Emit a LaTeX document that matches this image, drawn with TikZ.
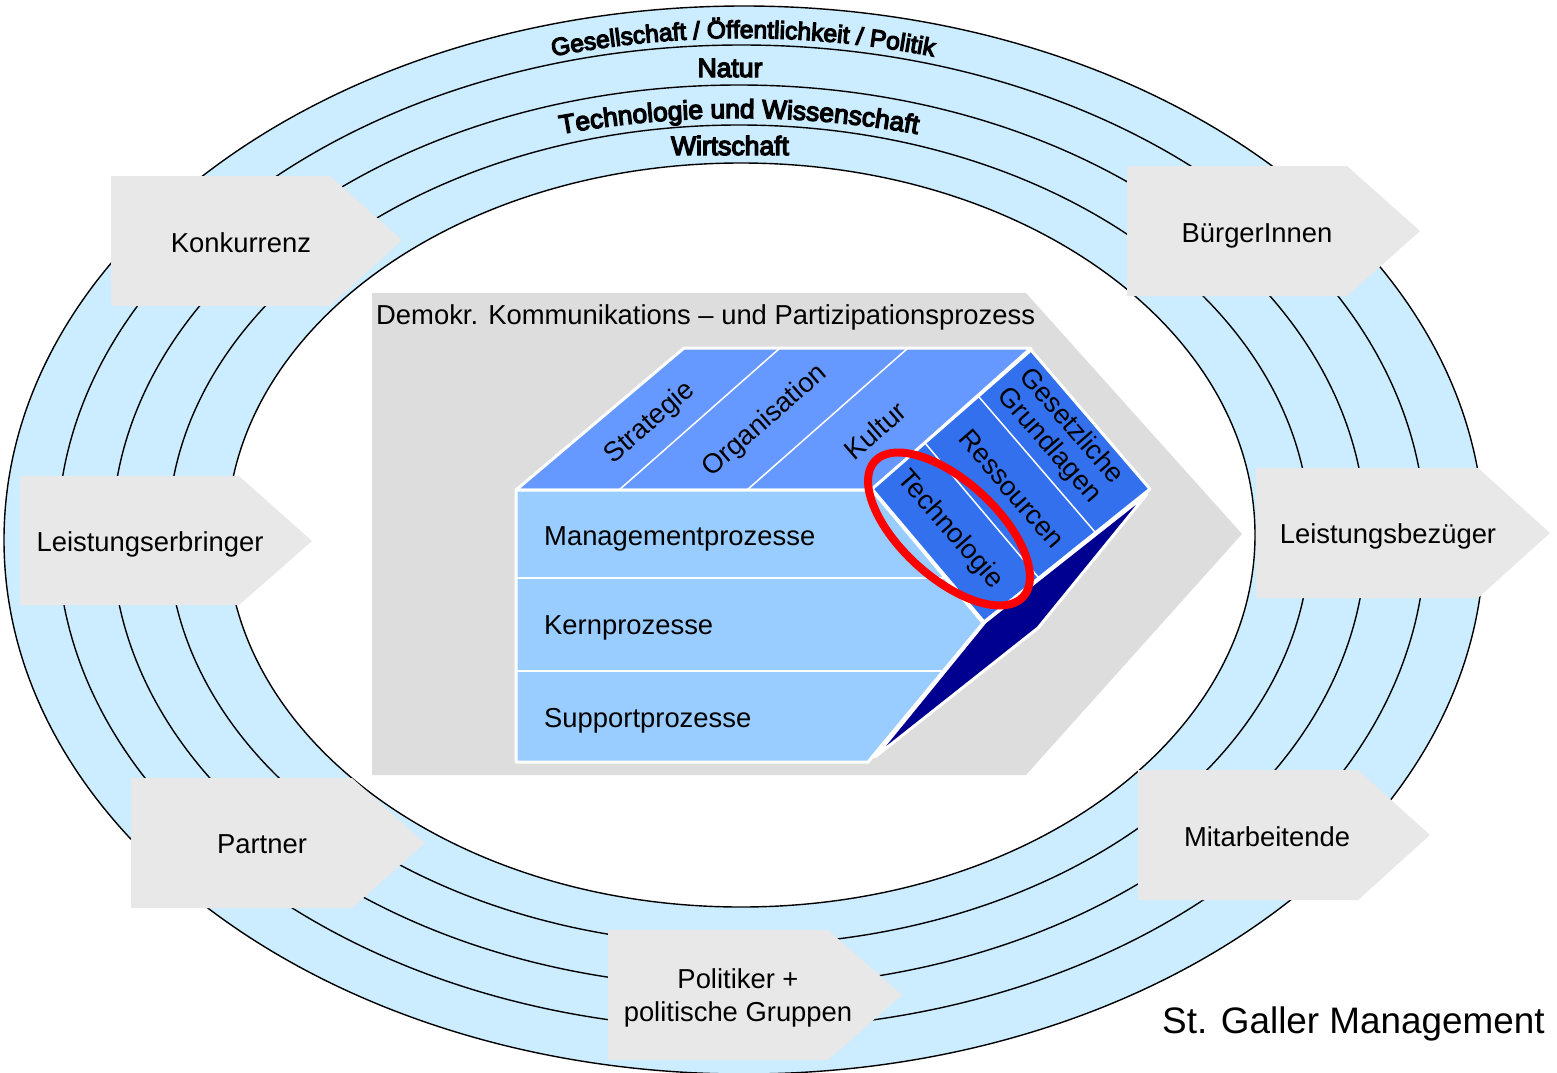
\documentclass[tikz,border=0pt]{standalone}
\usepackage{fontspec}
\setmainfont{Liberation Sans}
\newfontfamily\heavyfont[FakeBold=5]{Liberation Sans}
\usetikzlibrary{shapes.geometric,decorations.text}
\definecolor{ringblue}{HTML}{CCECFF}
\definecolor{arrowgrey}{HTML}{E8E8E8}
\definecolor{procgrey}{HTML}{DDDDDD}
\definecolor{topblue}{HTML}{6699FF}
\definecolor{sideblue}{HTML}{3370EE}
\definecolor{frontblue}{HTML}{99CCFF}
\definecolor{darkblue}{HTML}{000090}
\tikzset{
  ring/.style={draw=black,line width=1.4bp,fill=ringblue},
  pent/.style={fill=arrowgrey},
  facet/.style={draw=white,line width=3bp,line join=round},
  divider/.style={draw=white,line width=1.5bp},
  lab/.style={inner sep=0pt,font=\fontsize{27.5}{33}\selectfont,align=center},
  blab/.style={lab,anchor=base},
  llab/.style={lab,anchor=base west},
  heavylab/.style={inner sep=0pt,anchor=base,font=\heavyfont\fontsize{26.6}{30}\selectfont},
}
\begin{document}
\begin{tikzpicture}[x=1bp,y=-1bp]
\useasboundingbox (0,0) rectangle (1557,1072);
\clip (0,0) rectangle (1557,1072);
% rings
\path[ring] (744,540) ellipse[x radius=740,y radius=534];
\path[ring] (741.5,537) ellipse[x radius=684,y radius=492];
\path[ring] (739,536) ellipse[x radius=627,y radius=451];
\path[ring] (739,535) ellipse[x radius=571,y radius=410];
\path[draw=black,line width=1.4bp,fill=white] (741,535) ellipse[x radius=514,y radius=372];
% ring labels
\path[decorate,decoration={text along path,text align=center,
  text={|\heavyfont\fontsize{24.6}{28}\selectfont|Gesellschaft / Öffentlichkeit / Politik}}]
  (743,540) ++(240:709 and 502) arc[start angle=240,end angle=300,x radius=709,y radius=502];
\node[heavylab] (natur) at (730,77) {Natur};
\path[decorate,decoration={text along path,text align=center,
  text={|\heavyfont\fontsize{26.4}{30}\selectfont|Technologie und Wissenschaft}}]
  (739,536) ++(240:650 and 418) arc[start angle=240,end angle=300,x radius=650,y radius=418];
\node[heavylab] (wirtschaft) at (730,155) {Wirtschaft};
% stakeholder arrows
\path[pent] (111,176)--(330,176)--(402,240)--(330,306)--(111,306)--cycle;
\path[pent] (1127,166)--(1347,166)--(1420,231)--(1347,296)--(1127,296)--cycle;
\path[pent] (1256,468)--(1478,468)--(1550,533)--(1478,598)--(1256,598)--cycle;
\path[pent] (20,476)--(239,476)--(312,541)--(239,605)--(20,605)--cycle;
\path[pent] (131,778)--(352,778)--(425,843)--(352,908)--(131,908)--cycle;
\path[pent] (1138,770)--(1358,770)--(1430,835)--(1358,900)--(1138,900)--cycle;
\path[pent] (608,930)--(828,930)--(902,995)--(828,1060)--(608,1060)--cycle;
\node[blab] (konk) at (241,252) {Konkurrenz};
\node[blab] (buerger) at (1257,242) {BürgerInnen};
\node[blab] (bezueger) at (1388,543) {Leistungsbezüger};
\node[blab] (erbringer) at (150,551) {Leistungserbringer};
\node[blab] (partner) at (262,853) {Partner};
\node[blab] (mitarb) at (1267,846) {Mitarbeitende};
\node[lab] (politiker) at (738,998) {Politiker +\\politische Gruppen};
% process chevron
\path[fill=procgrey] (372,293)--(1026,293)--(1242,534)--(1026,775)--(372,775)--cycle;
\node[llab] (demokr) at (376,324) {Demokr. Kommunikations – und Partizipationsprozess};
% cube
\path[facet,fill=darkblue] (1147,494)--(985,622)--(875,757)--(1038,628)--cycle;
\path[facet,fill=topblue] (516,490)--(684,348)--(1031,348)--(872,490)--cycle;
\draw[divider] (619,490)--(780,348);
\draw[divider] (747,490)--(908,348);
\path[facet,fill=frontblue] (516,490)--(872,490)--(983,623)--(868,762)--(516,762)--cycle;
\draw[divider] (516,578)--(945,578);
\draw[divider] (516,671)--(943,671);
\path[facet,fill=sideblue] (872,489)--(1031,350)--(1150,489)--(984,622)--cycle;
\draw[divider] (979,397)--(1095,532);
\draw[divider] (925,443)--(1038,577);
% cube labels
\node[llab] (mgmt) at (544,545) {Managementprozesse};
\node[llab] (kern) at (544,634) {Kernprozesse};
\node[llab] (support) at (544,727) {Supportprozesse};
\node[lab,rotate=41] (strategie) at (650,423) {Strategie};
\node[lab,rotate=41] (organisation) at (765,421) {Organisation};
\node[lab,rotate=41] (kultur) at (875,431) {Kultur};
\node[lab,rotate=-49] (technologie) at (950,530) {Technologie};
\node[lab,rotate=-49] (ressourcen) at (1012,489) {Ressourcen};
\node[lab,rotate=-49,font=\fontsize{27.5}{29}\selectfont] (gesetz) at (1060,436) {Gesetzliche\\Grundlagen};
% highlight
\node[ellipse,draw=red,line width=8bp,minimum width=201bp,minimum height=96bp,inner sep=0pt,outer sep=0pt,rotate=-42.4] (mark) at (949,529) {};
\node[inner sep=0pt,anchor=base west,font=\fontsize{37}{40}\selectfont] (title) at (1162,1033) {St. Galler Management};
\end{tikzpicture}
\end{document}
